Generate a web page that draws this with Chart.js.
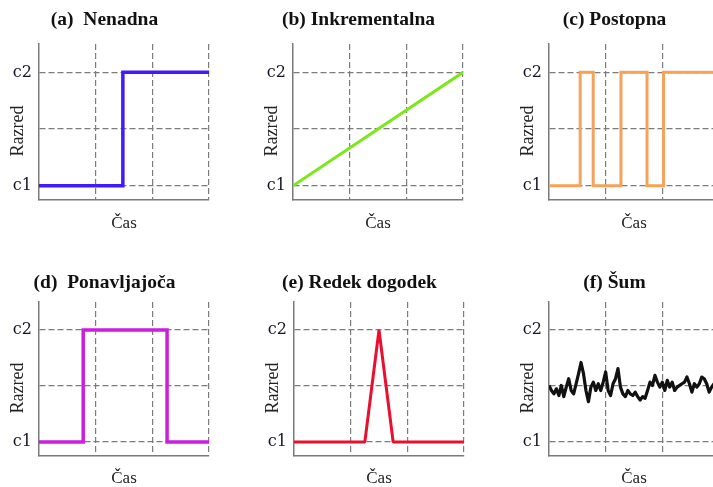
<!DOCTYPE html>
<html>
<head>
<meta charset="utf-8">
<title>Vrste sprememb</title>
<script src="https://cdn.jsdelivr.net/npm/chart.js"></script>
<style>
  body { margin: 0; background: #fff; overflow: hidden; width: 713px; height: 487px; position: relative; }
  .panel { position: absolute; }
</style>
</head>
<body>
<div class="panel" style="left:0px;top:0px"><canvas id="pa" width="215" height="240"></canvas></div>
<div class="panel" style="left:254px;top:0px"><canvas id="pb" width="215" height="240"></canvas></div>
<div class="panel" style="left:510px;top:0px"><canvas id="pc" width="215" height="240"></canvas></div>
<div class="panel" style="left:0px;top:250px"><canvas id="pd" width="215" height="240"></canvas></div>
<div class="panel" style="left:255px;top:250px"><canvas id="pe" width="215" height="240"></canvas></div>
<div class="panel" style="left:510px;top:250px"><canvas id="pf" width="215" height="240"></canvas></div>

<script>
// y axis: c1 = 0, c2 = 2, dashed middle line at 1
const yTickValues = [0, 1, 2];
const yTickLabels = ['c1', '', 'c2'];
// vertical grid lines on the time axis
const xGridValues = [1, 2, 3];

// (a) Nenadna
const nenadnaX = [0, 1.48, 1.48, 3];
const nenadnaY = [0, 0, 2, 2];
// (b) Inkrementalna
const inkrementalnaX = [0, 3];
const inkrementalnaY = [0, 2];
// (c) Postopna
const postopnaX = [0, 0.55, 0.55, 0.78, 0.78, 1.27, 1.27, 1.73, 1.73, 2.02, 2.02, 3];
const postopnaY = [0, 0, 2, 2, 0, 0, 2, 2, 0, 0, 2, 2];
// (d) Ponavljajoča
const ponavljajocaX = [0, 0.78, 0.78, 2.26, 2.26, 3];
const ponavljajocaY = [0, 0, 2, 2, 0, 0];
// (e) Redek dogodek
const redekX = [0, 1.25, 1.5, 1.75, 3];
const redekY = [0, 0, 2, 0, 0];
// (f) Šum - evenly sampled in time
const sumY = [1.01, 0.92, 0.86, 0.95, 0.83, 1.01, 0.81, 0.98, 1.13, 0.92,
              0.86, 1.04, 1.22, 1.42, 1.22, 0.92, 0.72, 0.98, 1.07, 0.92,
              1.04, 0.92, 1.07, 1.25, 0.92, 0.83, 1.04, 1.13, 1.31, 0.98,
              0.86, 0.81, 0.92, 0.86, 0.83, 0.89, 0.81, 0.75, 0.81, 0.78,
              0.92, 1.07, 1.01, 1.19, 1.07, 0.98, 1.07, 0.92, 1.10, 0.98,
              1.07, 0.92, 0.98, 1.01, 1.04, 1.07, 1.16, 1.04, 0.89, 1.04,
              0.98, 1.04, 1.16, 1.13, 1.04, 0.89, 0.98, 1.04, 1.00, 0.95];
const sumX = sumY.map((_, i) => i * 3 / (sumY.length - 1));

const gridColor = '#7c7c7c';
const axisColor = '#7a7a7a';

const rows = [
    { titleTop: 7.8, titleBottom: 12.8, xAxisHeight: 40, xTitleBottom: 6.3 },
    { titleTop: 21.3, titleBottom: 7.3, xAxisHeight: 34, xTitleBottom: 1.2 }
];

function makePanel(id, title, xs, ys, color, width, join, row) {
    const r = rows[row];
    new Chart(document.getElementById(id), {
        type: 'line',
        data: {
            datasets: [{
                data: xs.map((x, i) => ({ x: x, y: ys[i] })),
                borderColor: color,
                borderWidth: width,
                pointRadius: 0,
                tension: 0,
                fill: false,
                borderJoinStyle: join
            }]
        },
        options: {
            responsive: false,
            animation: false,
            devicePixelRatio: 1,
            layout: { padding: { left: 0, right: 6, top: 0, bottom: 0 } },
            plugins: {
                legend: { display: false },
                tooltip: { enabled: false },
                title: {
                    display: true,
                    text: title,
                    color: '#111',
                    font: { family: 'Liberation Serif', size: 19.5, weight: 'bold', lineHeight: 1.2 },
                    padding: { top: r.titleTop, bottom: r.titleBottom }
                }
            },
            scales: {
                x: {
                    type: 'linear',
                    min: 0,
                    max: 3,
                    afterBuildTicks: s => { s.ticks = xGridValues.map(v => ({ value: v })); },
                    afterFit: s => { s.height = r.xAxisHeight; },
                    ticks: { display: false },
                    grid: { color: gridColor, lineWidth: 1.2, drawTicks: false },
                    border: { color: axisColor, width: 1.5, dash: [6, 3] },
                    title: {
                        display: true,
                        text: 'Čas',
                        color: '#222',
                        font: { family: 'Liberation Serif', size: 17, lineHeight: 1.2 },
                        padding: { top: 0, bottom: r.xTitleBottom }
                    }
                },
                y: {
                    type: 'linear',
                    min: -0.25,
                    max: 2.5,
                    afterBuildTicks: s => { s.ticks = yTickValues.map(v => ({ value: v })); },
                    afterFit: s => { s.width = 39; },
                    ticks: {
                        padding: 7,
                        color: '#15152a',
                        font: { family: 'DejaVu Serif', size: 16 },
                        callback: v => yTickLabels[yTickValues.indexOf(v)]
                    },
                    grid: { color: gridColor, lineWidth: 1.2, drawTicks: false },
                    border: { color: axisColor, width: 1.5, dash: [6, 3] },
                    title: {
                        display: true,
                        text: 'Razred    ',
                        color: '#222',
                        font: { family: 'Liberation Serif', size: 18, lineHeight: 1.2 },
                        padding: { top: 7.7, bottom: 0 }
                    }
                }
            }
        }
    });
}

makePanel('pa', '(a)  Nenadna', nenadnaX, nenadnaY, '#3f1cfb', 3.5, 'miter', 0);
makePanel('pb', '(b) Inkrementalna', inkrementalnaX, inkrementalnaY, '#7ee61f', 3, 'round', 0);
makePanel('pc', '(c) Postopna', postopnaX, postopnaY, '#f5a25a', 3, 'miter', 0);
makePanel('pd', '(d)  Ponavljajoča', ponavljajocaX, ponavljajocaY, '#cc1fdd', 3.5, 'miter', 1);
makePanel('pe', '(e) Redek dogodek', redekX, redekY, '#e8102e', 3, 'bevel', 1);
makePanel('pf', '(f) Šum', sumX, sumY, '#111111', 3.2, 'round', 1);
</script>
</body>
</html>
